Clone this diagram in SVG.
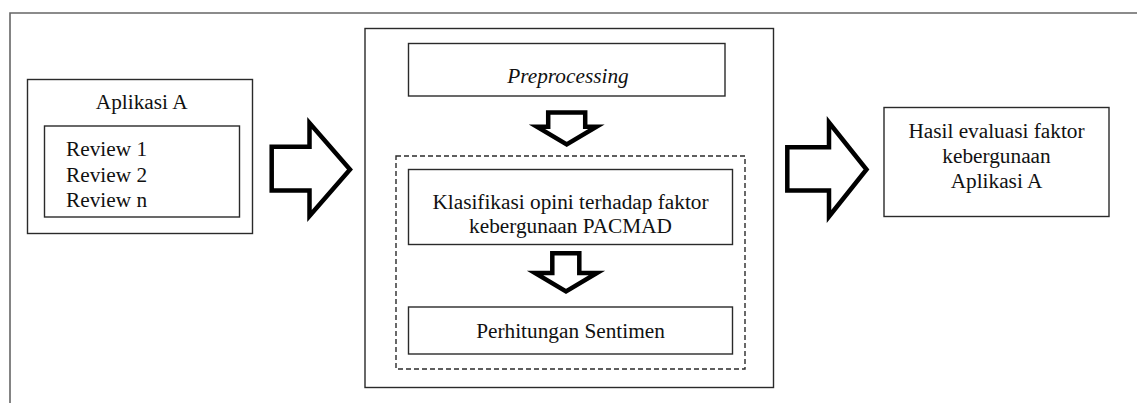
<svg xmlns="http://www.w3.org/2000/svg" width="1137" height="403" viewBox="0 0 1137 403">
<style>
.box{fill:#fff;stroke:#2a2a2a;stroke-width:1.4}
.frame{fill:none;stroke:#666;stroke-width:1.6}
.dash{fill:none;stroke:#2a2a2a;stroke-width:1.4;stroke-dasharray:5 3}
.arr{fill:#fff;stroke:#000;stroke-width:4.5;stroke-linejoin:miter;stroke-miterlimit:10}
text{font-family:"Liberation Serif","Times New Roman",serif;font-size:21.3px;fill:#111}
.c{text-anchor:middle}
</style>
<rect width="1137" height="403" fill="#fff"/>
<path class="frame" d="M10,403 V13 H1137"/>
<g id="aplikasi">
<rect class="box" x="27.5" y="79.5" width="225" height="154"/>
<text class="c" x="141.7" y="109">Aplikasi A</text>
</g>
<g id="reviews">
<rect class="box" x="44.5" y="126" width="195" height="91"/>
<text x="66" y="156">Review 1</text>
<text x="66" y="181.5">Review 2</text>
<text x="66" y="206.5">Review n</text>
</g>
<g id="proses">
<rect class="box" x="365" y="28.5" width="408.5" height="359"/>
</g>
<g id="preprocessing">
<rect class="box" x="408.5" y="43.5" width="316.5" height="52.5"/>
<text class="c" x="568" y="83" font-style="italic">Preprocessing</text>
</g>
<g id="grup">
<rect class="dash" x="396" y="156" width="349" height="213"/>
</g>
<g id="klasifikasi">
<rect class="box" x="408.5" y="169.5" width="324" height="75"/>
<text class="c" x="570.5" y="208.5">Klasifikasi opini terhadap faktor</text>
<text class="c" x="570.5" y="232.5">kebergunaan PACMAD</text>
</g>
<g id="perhitungan">
<rect class="box" x="408.5" y="307" width="324" height="47"/>
<text class="c" x="570.5" y="338.3">Perhitungan Sentimen</text>
</g>
<g id="hasil">
<rect class="box" x="884" y="107.5" width="225" height="109"/>
<text class="c" x="996.5" y="138">Hasil evaluasi faktor</text>
<text class="c" x="996.5" y="163">kebergunaan</text>
<text class="c" x="996.5" y="188.3">Aplikasi A</text>
</g>
<g id="connectors">
<polygon class="arr" points="271.7,146.8 309.5,146.8 309.5,123 350,169.5 309.5,216 309.5,190.5 271.7,190.5"/>
<polygon class="arr" points="787.3,147.3 829,147.3 829,122.5 866.5,169.5 829,216.5 829,190.5 787.3,190.5"/>
<polygon class="arr" points="548.2,112.5 585.2,112.5 585.2,126.7 596.5,126.7 566.7,144.5 536.9,126.7 548.2,126.7"/>
<polygon class="arr" points="552.3,253.3 579.3,253.3 579.3,273 597,273 566,291.5 535,273 552.3,273"/>
</g>
</svg>
